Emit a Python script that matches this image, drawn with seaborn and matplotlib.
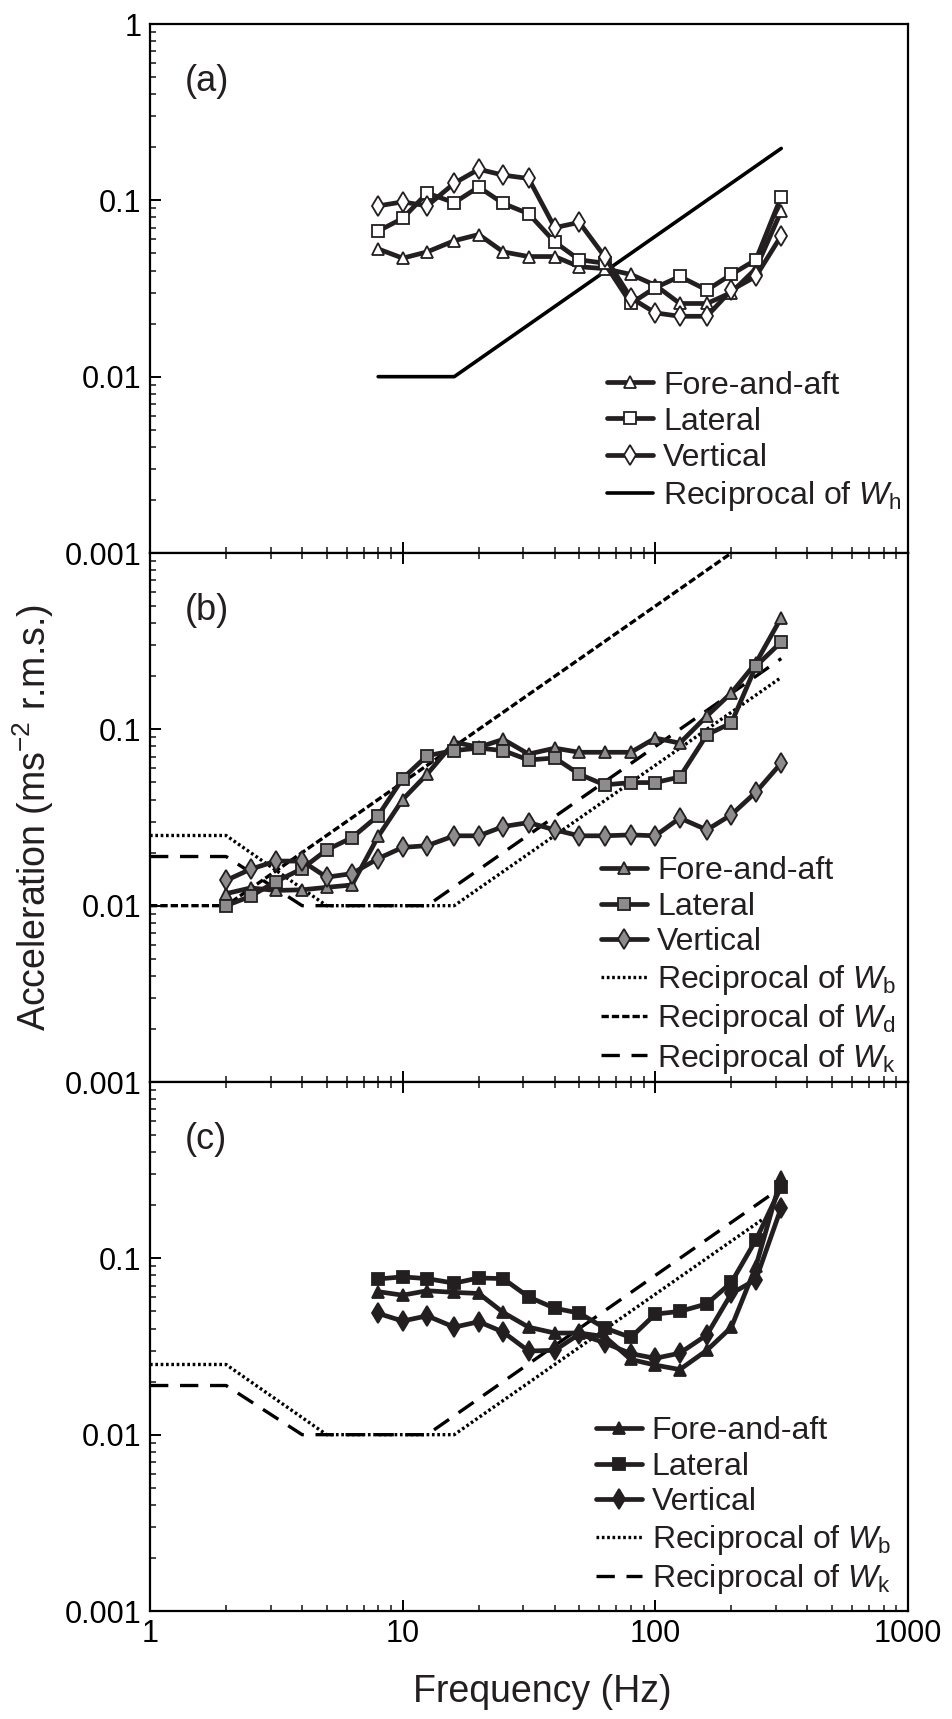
import numpy as np
import pandas as pd
import matplotlib
matplotlib.use("Agg")
import matplotlib.pyplot as plt
import seaborn as sns
from matplotlib.ticker import LogLocator, NullFormatter

sns.set_theme(style="white")
plt.rcParams['font.family'] = ['Liberation Sans', 'DejaVu Sans']
plt.rcParams['mathtext.fontset'] = 'custom'
plt.rcParams['mathtext.it'] = 'Liberation Sans:italic'
plt.rcParams['mathtext.rm'] = 'Liberation Sans'

# ---------------- data ----------------
freq_a = [8, 10, 12.5, 16, 20, 25, 31.5, 40, 50, 63, 80, 100, 125, 160, 200, 250, 315]
a_fore = [0.053, 0.047, 0.051, 0.059, 0.064, 0.051, 0.048, 0.048, 0.042, 0.041, 0.038,
          0.033, 0.026, 0.026, 0.030, 0.041, 0.087]
a_lat = [0.067, 0.079, 0.110, 0.097, 0.119, 0.096, 0.084, 0.058, 0.046, 0.044, 0.026,
         0.032, 0.037, 0.031, 0.038, 0.046, 0.105]
a_vert = [0.093, 0.098, 0.093, 0.125, 0.150, 0.139, 0.133, 0.070, 0.075, 0.048, 0.028,
          0.023, 0.022, 0.022, 0.031, 0.037, 0.063]
wh_freq = [8, 16, 315]
wh_val = [0.01, 0.01, 0.197]

freq_b = [2, 2.5, 3.15, 4, 5, 6.3, 8, 10, 12.5, 16, 20, 25, 31.5, 40, 50, 63, 80, 100,
          125, 160, 200, 250, 315]
b_fore = [0.0117, 0.0126, 0.0122, 0.0123, 0.0127, 0.0131, 0.0247, 0.040, 0.0557, 0.0846,
          0.0792, 0.0877, 0.0724, 0.0782, 0.0741, 0.0741, 0.0741, 0.0892, 0.0835, 0.119,
          0.161, 0.238, 0.43]
b_lat = [0.0100, 0.0113, 0.0137, 0.0162, 0.0207, 0.0243, 0.0324, 0.0526, 0.0709, 0.0758,
         0.0782, 0.0758, 0.067, 0.0688, 0.0557, 0.0484, 0.0499, 0.0499, 0.0537, 0.0932,
         0.1087, 0.228, 0.313]
b_vert = [0.0139, 0.0161, 0.0179, 0.0179, 0.0145, 0.0152, 0.0185, 0.0214, 0.0219, 0.0249,
          0.0249, 0.0281, 0.0296, 0.0269, 0.0249, 0.0249, 0.0252, 0.0249, 0.0314, 0.0269,
          0.0328, 0.044, 0.0644]
wb_freq = [1, 2, 5, 16, 315]
wb_val = [0.025, 0.025, 0.01, 0.01, 0.197]
wd_freq = [1, 2, 315]
wd_val = [0.01, 0.01, 1.575]
wk_freq = [1, 2, 4, 12.5, 315]
wk_val = [0.019, 0.019, 0.01, 0.01, 0.252]

freq_c = freq_a
c_fore = [0.0647, 0.0618, 0.0655, 0.0641, 0.0632, 0.0493, 0.0407, 0.0377, 0.0377, 0.0360,
          0.0267, 0.0248, 0.0234, 0.0301, 0.0407, 0.090, 0.288]
c_lat = [0.0764, 0.0785, 0.0767, 0.0723, 0.0774, 0.0767, 0.0604, 0.0521, 0.0489, 0.0403,
         0.0356, 0.0483, 0.050, 0.0552, 0.073, 0.127, 0.255]
c_vert = [0.0487, 0.0441, 0.0472, 0.0407, 0.0437, 0.0382, 0.0298, 0.0301, 0.0372, 0.0332,
          0.0288, 0.0271, 0.0290, 0.0368, 0.0632, 0.0757, 0.194]
wb_c_freq = [1, 2, 5, 16, 265]
wb_c_val = [0.025, 0.025, 0.01, 0.01, 0.166]
wk_c_freq = [1, 2, 4, 12.5, 290]
wk_c_val = [0.019, 0.019, 0.01, 0.01, 0.232]

y_ticks = [0.001, 0.01, 0.1, 1]
y_labels_top = ["0.001", "0.01", "0.1", "1"]
y_labels = ["0.001", "0.01", "0.1", ""]
x_ticks = [1, 10, 100, 1000]
x_labels = ["1", "10", "100", "1000"]

names = ["Fore-and-aft", "Lateral", "Vertical"]
lbl_wh = r"Reciprocal of $\mathit{W}_{\mathrm{h}}$"
lbl_wb = r"Reciprocal of $\mathit{W}_{\mathrm{b}}$"
lbl_wd = r"Reciprocal of $\mathit{W}_{\mathrm{d}}$"
lbl_wk = r"Reciprocal of $\mathit{W}_{\mathrm{k}}$"

# ---------------- figure ----------------
W, H = 952, 1719
fig = plt.figure(figsize=(W / 100, H / 100), dpi=100)
left = 150 / W
width = (908 - 150) / W
top_px, bot_px = 24, 1611
ph = (bot_px - top_px) / 3
axes = []
for i in range(3):
    y0 = 1 - (top_px + (i + 1) * ph) / H
    axes.append(fig.add_axes([left, y0, width, ph / H]))

LC = "#231f20"
GRAY = "#8c8c8c"
DLW = 3.4
TICK_FS = 22

def data_line(ax, x, y, marker, face, label, ms):
    sns.lineplot(x=x, y=y, ax=ax, color=LC, lw=DLW, marker=marker, markersize=ms,
                 markerfacecolor=face, markeredgecolor=LC, markeredgewidth=1.3,
                 label=label, estimator=None, sort=False, zorder=3)

def ref_line(ax, x, y, ls, label, lw=2.4):
    sns.lineplot(x=x, y=y, ax=ax, color="black", lw=lw, linestyle=ls,
                 label=label, estimator=None, sort=False, zorder=2)

DOT = (0, (0.8, 0.8))
DASH_D = (0, (2.2, 0.9))
DASH_K = (0, (5.5, 3.5))

for ax in axes:
    ax.set_xscale("log")
    ax.set_yscale("log")

# panel a
ax = axes[0]
data_line(ax, freq_a, a_fore, "^", "white", names[0], 9)
data_line(ax, freq_a, a_lat, "s", "white", names[1], 8)
data_line(ax, freq_a, a_vert, "d", "white", names[2], 10)
ref_line(ax, wh_freq, wh_val, "-", lbl_wh, lw=2.6)

# panel b
ax = axes[1]
data_line(ax, freq_b, b_fore, "^", GRAY, names[0], 9)
data_line(ax, freq_b, b_lat, "s", GRAY, names[1], 8)
data_line(ax, freq_b, b_vert, "d", GRAY, names[2], 10)
ref_line(ax, wb_freq, wb_val, DOT, lbl_wb)
ref_line(ax, wd_freq, wd_val, DASH_D, lbl_wd)
ref_line(ax, wk_freq, wk_val, DASH_K, lbl_wk)

# panel c
ax = axes[2]
data_line(ax, freq_c, c_fore, "^", LC, names[0], 9)
data_line(ax, freq_c, c_lat, "s", LC, names[1], 8)
data_line(ax, freq_c, c_vert, "d", LC, names[2], 10)
ref_line(ax, wb_c_freq, wb_c_val, DOT, lbl_wb)
ref_line(ax, wk_c_freq, wk_c_val, DASH_K, lbl_wk)

legend_anchor = [(0.603, 0.076), (0.595, 0.012), (0.588, 0.028)]
legend_fs = [23, 23, 23]
legend_ls = [0.19, 0.17, 0.17]
panel_tags = ["(a)", "(b)", "(c)"]
for i, ax in enumerate(axes):
    ax.set_xlim(1, 1000)
    ax.set_ylim(0.001, 1)
    ax.set_yticks(y_ticks)
    ax.set_yticklabels(y_labels_top if i == 0 else y_labels)
    ax.yaxis.set_minor_locator(LogLocator(base=10, subs=np.arange(2, 10)))
    ax.yaxis.set_minor_formatter(NullFormatter())
    ax.set_xticks(x_ticks)
    ax.set_xticklabels(x_labels if i == 2 else ["", "", "", ""])
    ax.xaxis.set_minor_locator(LogLocator(base=10, subs=np.arange(2, 10)))
    ax.xaxis.set_minor_formatter(NullFormatter())
    ax.tick_params(axis="both", which="major", direction="in", length=8, width=1.4,
                   labelsize=TICK_FS, colors="black", pad=6, top=(i > 0), right=False,
                   bottom=True, left=True)
    ax.tick_params(axis="both", which="minor", direction="in", length=4.5, width=1.2,
                   top=(i > 0), right=False, bottom=True, left=True)
    ax.set_xlabel("")
    ax.set_ylabel("")
    for sp in ax.spines.values():
        sp.set_color("black")
        sp.set_linewidth(1.6)
    ax.set_facecolor("white")
    ax.text(0.046, 0.892, panel_tags[i], transform=ax.transAxes, fontsize=26,
            color=LC, va="center", ha="left")
    h, l = ax.get_legend_handles_labels()
    ax.legend(h, l, loc="lower left", bbox_to_anchor=legend_anchor[i], frameon=False,
              fontsize=legend_fs[i], handlelength=1.45, handletextpad=0.3,
              labelspacing=legend_ls[i], borderpad=0, borderaxespad=0, numpoints=1,
              labelcolor=LC)

fig.text(0.035, 1 - (top_px + 1.5 * ph) / H, r"Acceleration (ms$^{\mathregular{-2}}$ r.m.s.)",
         rotation=90, ha="center", va="center", fontsize=27, color=LC)
fig.text(542 / W, 1 - 1692 / H, "Frequency (Hz)", ha="center", va="center",
         fontsize=27, color=LC)

fig.savefig("out.png", dpi=100, facecolor="white")
